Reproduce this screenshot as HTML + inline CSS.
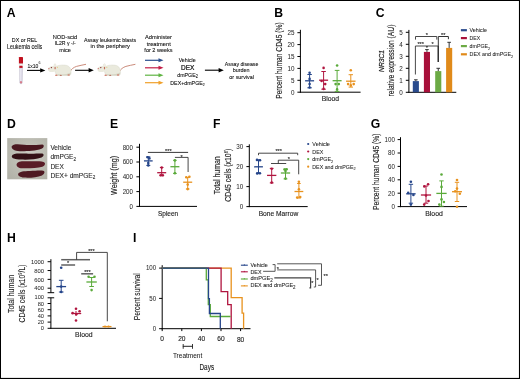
<!DOCTYPE html><html><head><meta charset="utf-8"><style>
html,body{margin:0;padding:0;background:#fff;}
svg{display:block;will-change:transform;}
text{font-family:"Liberation Sans",sans-serif;}
</style></head><body>
<svg width="520" height="379" viewBox="0 0 520 379">
<rect x="0" y="0" width="520" height="379" fill="#fff"/>
<text x="6.8" y="16.7" font-size="12.2" text-anchor="start" fill="#000" font-weight="bold" >A</text>
<text x="274.3" y="16.7" font-size="12.2" text-anchor="start" fill="#000" font-weight="bold" >B</text>
<text x="375.7" y="16.7" font-size="12.2" text-anchor="start" fill="#000" font-weight="bold" >C</text>
<text x="7.0" y="127.8" font-size="12.2" text-anchor="start" fill="#000" font-weight="bold" >D</text>
<text x="110.0" y="127.8" font-size="12.2" text-anchor="start" fill="#000" font-weight="bold" >E</text>
<text x="213.0" y="127.8" font-size="12.2" text-anchor="start" fill="#000" font-weight="bold" >F</text>
<text x="370.7" y="127.8" font-size="12.2" text-anchor="start" fill="#000" font-weight="bold" >G</text>
<text x="7.0" y="241.9" font-size="12.2" text-anchor="start" fill="#000" font-weight="bold" >H</text>
<text x="132.9" y="241.9" font-size="12.2" text-anchor="start" fill="#000" font-weight="bold" >I</text>
<text x="24.55" y="42.0" font-size="6.2" text-anchor="middle" fill="#111" stroke="#111" stroke-width="0.1" textLength="25.4" lengthAdjust="spacingAndGlyphs">DX or REL</text>
<text x="24.6" y="48.9" font-size="6.7" text-anchor="middle" fill="#111" stroke="#111" stroke-width="0.1" textLength="35.3" lengthAdjust="spacingAndGlyphs">Leukemia cells</text>
<text x="64.95" y="38.6" font-size="6.2" text-anchor="middle" fill="#111" stroke="#111" stroke-width="0.1" textLength="24.6" lengthAdjust="spacingAndGlyphs">NOD-scid</text>
<text x="65.25" y="45.0" font-size="6.2" text-anchor="middle" fill="#111" stroke="#111" stroke-width="0.1" textLength="21.2" lengthAdjust="spacingAndGlyphs">IL2R γ -/-</text>
<text x="65.1" y="51.8" font-size="6.2" text-anchor="middle" fill="#111" stroke="#111" stroke-width="0.1" textLength="11.7" lengthAdjust="spacingAndGlyphs">mice</text>
<text x="110.0" y="42.3" font-size="6.2" text-anchor="middle" fill="#111" stroke="#111" stroke-width="0.1" textLength="52.2" lengthAdjust="spacingAndGlyphs">Assay leukemic blasts</text>
<text x="110.25" y="48.3" font-size="6.2" text-anchor="middle" fill="#111" stroke="#111" stroke-width="0.1" textLength="39.3" lengthAdjust="spacingAndGlyphs">in the periphery</text>
<text x="158.5" y="39.0" font-size="6.2" text-anchor="middle" fill="#111" stroke="#111" stroke-width="0.1" textLength="26.9" lengthAdjust="spacingAndGlyphs">Administer</text>
<text x="158.75" y="45.6" font-size="6.2" text-anchor="middle" fill="#111" stroke="#111" stroke-width="0.1" textLength="24.2" lengthAdjust="spacingAndGlyphs">treatment</text>
<text x="158.45" y="52.2" font-size="6.2" text-anchor="middle" fill="#111" stroke="#111" stroke-width="0.1" textLength="28.2" lengthAdjust="spacingAndGlyphs">for 2 weeks</text>
<text x="187.15" y="62.0" font-size="6.2" text-anchor="middle" fill="#111" stroke="#111" stroke-width="0.1" textLength="17.0" lengthAdjust="spacingAndGlyphs">Vehicle</text>
<text x="187.7" y="69.6" font-size="6.7" text-anchor="middle" fill="#111" stroke="#111" stroke-width="0.22" textLength="13.3" lengthAdjust="spacingAndGlyphs">DEX</text>
<text x="187.6" y="77.0" font-size="6.2" text-anchor="middle" fill="#111" stroke="#111" stroke-width="0.1" textLength="20.6" lengthAdjust="spacingAndGlyphs">dmPGE<tspan font-size="4.6" dy="1.3">2</tspan></text>
<text x="187.5" y="84.6" font-size="6.2" text-anchor="middle" fill="#111" stroke="#111" stroke-width="0.1" textLength="34.4" lengthAdjust="spacingAndGlyphs">DEX+dmPGE<tspan font-size="4.0" dy="1.3">2</tspan></text>
<text x="241.6" y="65.8" font-size="6.2" text-anchor="middle" fill="#111" stroke="#111" stroke-width="0.1" textLength="33.5" lengthAdjust="spacingAndGlyphs">Assay disease</text>
<text x="241.2" y="72.4" font-size="6.2" text-anchor="middle" fill="#111" stroke="#111" stroke-width="0.1" textLength="16.9" lengthAdjust="spacingAndGlyphs">burden</text>
<text x="241.65" y="79.0" font-size="6.2" text-anchor="middle" fill="#111" stroke="#111" stroke-width="0.1" textLength="24.6" lengthAdjust="spacingAndGlyphs">or survival</text>
<text x="27.6" y="67.6" font-size="6.2" fill="#111" stroke="#111" stroke-width="0.1" textLength="10.8" lengthAdjust="spacingAndGlyphs">1x10</text><text x="38.6" y="64.4" font-size="3.6" fill="#111">6</text>
<line x1="27.0" y1="70.4" x2="40.699999999999996" y2="70.4" stroke="#000" stroke-width="1.1"/>
<polygon points="40.199999999999996,68.2 45.4,70.4 40.199999999999996,72.60000000000001" fill="#000"/>
<line x1="75.1" y1="70.3" x2="89.1" y2="70.3" stroke="#000" stroke-width="1.1"/>
<polygon points="88.6,68.1 93.8,70.3 88.6,72.5" fill="#000"/>
<line x1="204.9" y1="70.2" x2="219.10000000000002" y2="70.2" stroke="#000" stroke-width="1.1"/>
<polygon points="218.60000000000002,68.0 223.8,70.2 218.60000000000002,72.4" fill="#000"/>
<line x1="145.0" y1="60.3" x2="159.0" y2="60.3" stroke="#2b4f8e" stroke-width="1.2"/>
<polygon points="158.5,58.3 163.5,60.3 158.5,62.3" fill="#2b4f8e"/>
<line x1="145.0" y1="67.8" x2="159.0" y2="67.8" stroke="#c21c46" stroke-width="1.2"/>
<polygon points="158.5,65.8 163.5,67.8 158.5,69.8" fill="#c21c46"/>
<line x1="145.0" y1="75.2" x2="159.0" y2="75.2" stroke="#5fb443" stroke-width="1.2"/>
<polygon points="158.5,73.2 163.5,75.2 158.5,77.2" fill="#5fb443"/>
<line x1="145.0" y1="82.7" x2="159.0" y2="82.7" stroke="#f0a02a" stroke-width="1.2"/>
<polygon points="158.5,80.7 163.5,82.7 158.5,84.7" fill="#f0a02a"/>
<g>
<path d="M19.7,67.6 L22.4,67.6 L22.2,82.6 C22.1,84.2 19.9,84.2 19.8,82.6 Z" fill="#e2e0ec" stroke="#a6a2b6" stroke-width="0.45"/>
<line x1="20.6" y1="69" x2="20.6" y2="81" stroke="#f6f5fa" stroke-width="0.5"/>
<circle cx="21.0" cy="82.3" r="1.15" fill="#d36676"/>
<circle cx="21.0" cy="82.4" r="0.45" fill="#f0d0d4"/>
<rect x="18.9" y="57" width="4.1" height="6.8" rx="0.6" fill="#c1111f"/>
<rect x="19.1" y="63.8" width="3.7" height="2.0" fill="#f4f4f2" stroke="#c9c3c3" stroke-width="0.3"/>
<rect x="19.3" y="65.8" width="3.3" height="2.1" fill="#c1111f"/>
</g>
<g transform="translate(0,0)">
<path d="M69.8,71.8 C71.5,69.0 73.5,67.4 76.5,66.4 C79.5,65.5 82.5,65.1 86.0,64.3" stroke="#c47e6c" stroke-width="0.9" fill="none"/>
<path d="M55.5,67.0 C57.5,65.0 65.5,64.0 68.8,66.4 C71.3,68.3 71.6,72.6 70.8,74.6 C70.2,75.4 68.5,75.5 67.5,75.4 L57.5,75.5 C55.2,75.0 54.2,69.0 55.5,67.0 Z" fill="#eaeadd" stroke="#d2d2c2" stroke-width="0.35"/>
<path d="M57.5,74.0 C61,74.8 66.5,74.6 70.9,72.6 C70.8,74.2 70.2,75.4 67.5,75.4 L57.5,75.5 Z" fill="#d5d6c5"/>
<ellipse cx="52.6" cy="69.0" rx="4.6" ry="3.0" fill="#eaeadd" transform="rotate(-8 52.6 69)"/>
<ellipse cx="55.0" cy="66.3" rx="1.2" ry="2.7" fill="#f0efe6" stroke="#d8d6c4" stroke-width="0.3"/>
<ellipse cx="55.1" cy="68.1" rx="0.65" ry="1.35" fill="#c4705c"/>
<circle cx="57.4" cy="67.4" r="0.55" fill="#e2cf88"/>
<circle cx="51.4" cy="67.6" r="0.72" fill="#7e3232"/>
<circle cx="48.9" cy="68.6" r="0.7" fill="#d27272"/>
<ellipse cx="56.3" cy="75.2" rx="1.3" ry="0.75" fill="#cf7e6c"/>
<ellipse cx="60.8" cy="75.3" rx="1.1" ry="0.6" fill="#b8705e"/>
<ellipse cx="68.7" cy="75.1" rx="1.3" ry="0.75" fill="#cf7e6c"/>
</g>
<g transform="translate(49.4,0)">
<path d="M69.8,71.8 C71.5,69.0 73.5,67.4 76.5,66.4 C79.5,65.5 82.5,65.1 86.0,64.3" stroke="#c47e6c" stroke-width="0.9" fill="none"/>
<path d="M55.5,67.0 C57.5,65.0 65.5,64.0 68.8,66.4 C71.3,68.3 71.6,72.6 70.8,74.6 C70.2,75.4 68.5,75.5 67.5,75.4 L57.5,75.5 C55.2,75.0 54.2,69.0 55.5,67.0 Z" fill="#eaeadd" stroke="#d2d2c2" stroke-width="0.35"/>
<path d="M57.5,74.0 C61,74.8 66.5,74.6 70.9,72.6 C70.8,74.2 70.2,75.4 67.5,75.4 L57.5,75.5 Z" fill="#d5d6c5"/>
<ellipse cx="52.6" cy="69.0" rx="4.6" ry="3.0" fill="#eaeadd" transform="rotate(-8 52.6 69)"/>
<ellipse cx="55.0" cy="66.3" rx="1.2" ry="2.7" fill="#f0efe6" stroke="#d8d6c4" stroke-width="0.3"/>
<ellipse cx="55.1" cy="68.1" rx="0.65" ry="1.35" fill="#c4705c"/>
<circle cx="57.4" cy="67.4" r="0.55" fill="#e2cf88"/>
<circle cx="51.4" cy="67.6" r="0.72" fill="#7e3232"/>
<circle cx="48.9" cy="68.6" r="0.7" fill="#d27272"/>
<ellipse cx="56.3" cy="75.2" rx="1.3" ry="0.75" fill="#cf7e6c"/>
<ellipse cx="60.8" cy="75.3" rx="1.1" ry="0.6" fill="#b8705e"/>
<ellipse cx="68.7" cy="75.1" rx="1.3" ry="0.75" fill="#cf7e6c"/>
</g>
<line x1="300.4" y1="29.8" x2="300.4" y2="92.7" stroke="#000" stroke-width="1"/>
<line x1="299.9" y1="92.2" x2="360.6" y2="92.2" stroke="#000" stroke-width="1"/>
<line x1="297.4" y1="92.2" x2="300.4" y2="92.2" stroke="#000" stroke-width="1"/>
<text x="294.5" y="94.58" font-size="6.8" text-anchor="end" fill="#2a2a2a" font-weight="normal" textLength="3.5" lengthAdjust="spacingAndGlyphs" stroke="#2a2a2a" stroke-width="0.03" >0</text>
<line x1="297.4" y1="80.3" x2="300.4" y2="80.3" stroke="#000" stroke-width="1"/>
<text x="294.5" y="82.68" font-size="6.8" text-anchor="end" fill="#2a2a2a" font-weight="normal" textLength="3.5" lengthAdjust="spacingAndGlyphs" stroke="#2a2a2a" stroke-width="0.03" >5</text>
<line x1="297.4" y1="68.4" x2="300.4" y2="68.4" stroke="#000" stroke-width="1"/>
<text x="294.5" y="70.78" font-size="6.8" text-anchor="end" fill="#2a2a2a" font-weight="normal" textLength="7.0" lengthAdjust="spacingAndGlyphs" stroke="#2a2a2a" stroke-width="0.03" >10</text>
<line x1="297.4" y1="56.5" x2="300.4" y2="56.5" stroke="#000" stroke-width="1"/>
<text x="294.5" y="58.88" font-size="6.8" text-anchor="end" fill="#2a2a2a" font-weight="normal" textLength="7.0" lengthAdjust="spacingAndGlyphs" stroke="#2a2a2a" stroke-width="0.03" >15</text>
<line x1="297.4" y1="44.6" x2="300.4" y2="44.6" stroke="#000" stroke-width="1"/>
<text x="294.5" y="46.98" font-size="6.8" text-anchor="end" fill="#2a2a2a" font-weight="normal" textLength="7.0" lengthAdjust="spacingAndGlyphs" stroke="#2a2a2a" stroke-width="0.03" >20</text>
<line x1="297.4" y1="32.7" x2="300.4" y2="32.7" stroke="#000" stroke-width="1"/>
<text x="294.5" y="35.08" font-size="6.8" text-anchor="end" fill="#2a2a2a" font-weight="normal" textLength="7.0" lengthAdjust="spacingAndGlyphs" stroke="#2a2a2a" stroke-width="0.03" >25</text>
<text transform="translate(281.8,60.6) rotate(-90)" x="0" y="0" font-size="8.6" text-anchor="middle" fill="#222" textLength="76.4" lengthAdjust="spacingAndGlyphs" stroke="#222" stroke-width="0.15" >Percent human CD45 (%)</text>
<text x="330.45" y="100.8" font-size="6.8" text-anchor="middle" fill="#222" font-weight="normal" textLength="17.4" lengthAdjust="spacingAndGlyphs" stroke="#222" stroke-width="0.12" >Blood</text>
<line x1="309.6" y1="74.5" x2="309.6" y2="87.8" stroke="#25458a" stroke-width="1"/>
<line x1="307.35" y1="74.5" x2="311.85" y2="74.5" stroke="#25458a" stroke-width="1"/>
<line x1="307.35" y1="87.8" x2="311.85" y2="87.8" stroke="#25458a" stroke-width="1"/>
<line x1="305.1" y1="80.8" x2="314.1" y2="80.8" stroke="#25458a" stroke-width="1.3"/>
<circle cx="309.6" cy="72.8" r="1.3" fill="#25458a"/>
<circle cx="309.6" cy="78.9" r="1.3" fill="#25458a"/>
<circle cx="309.6" cy="84.1" r="1.3" fill="#25458a"/>
<circle cx="309.6" cy="87.5" r="1.3" fill="#25458a"/>
<line x1="323.6" y1="71.5" x2="323.6" y2="89.2" stroke="#b0153f" stroke-width="1"/>
<line x1="321.35" y1="71.5" x2="325.85" y2="71.5" stroke="#b0153f" stroke-width="1"/>
<line x1="321.35" y1="89.2" x2="325.85" y2="89.2" stroke="#b0153f" stroke-width="1"/>
<line x1="319.1" y1="80.2" x2="328.1" y2="80.2" stroke="#b0153f" stroke-width="1.3"/>
<circle cx="323.6" cy="67.9" r="1.3" fill="#b0153f"/>
<circle cx="321.6" cy="81" r="1.3" fill="#b0153f"/>
<circle cx="325.2" cy="84.1" r="1.3" fill="#b0153f"/>
<circle cx="323.6" cy="88.9" r="1.3" fill="#b0153f"/>
<line x1="337.1" y1="70.4" x2="337.1" y2="91.4" stroke="#5aaa3a" stroke-width="1"/>
<line x1="334.75" y1="70.4" x2="339.45000000000005" y2="70.4" stroke="#5aaa3a" stroke-width="1"/>
<line x1="334.75" y1="91.4" x2="339.45000000000005" y2="91.4" stroke="#5aaa3a" stroke-width="1"/>
<line x1="332.6" y1="80.7" x2="341.6" y2="80.7" stroke="#5aaa3a" stroke-width="1.3"/>
<circle cx="337.1" cy="65.5" r="1.3" fill="#5aaa3a"/>
<circle cx="335.6" cy="84.1" r="1.3" fill="#5aaa3a"/>
<circle cx="338.8" cy="84.1" r="1.3" fill="#5aaa3a"/>
<circle cx="337.1" cy="89.4" r="1.3" fill="#5aaa3a"/>
<line x1="350.8" y1="74.7" x2="350.8" y2="87.1" stroke="#e8921e" stroke-width="1"/>
<line x1="348.6" y1="74.7" x2="353.0" y2="74.7" stroke="#e8921e" stroke-width="1"/>
<line x1="348.6" y1="87.1" x2="353.0" y2="87.1" stroke="#e8921e" stroke-width="1"/>
<line x1="346.05" y1="81.2" x2="355.55" y2="81.2" stroke="#e8921e" stroke-width="1.3"/>
<circle cx="350.8" cy="70.3" r="1.3" fill="#e8921e"/>
<circle cx="348.1" cy="84.1" r="1.3" fill="#e8921e"/>
<circle cx="353.7" cy="84.1" r="1.3" fill="#e8921e"/>
<circle cx="350.8" cy="85.4" r="1.3" fill="#e8921e"/>
<line x1="408.9" y1="29.9" x2="408.9" y2="92.8" stroke="#000" stroke-width="1"/>
<line x1="408.4" y1="92.3" x2="456.3" y2="92.3" stroke="#000" stroke-width="1"/>
<line x1="405.8" y1="92.3" x2="408.9" y2="92.3" stroke="#000" stroke-width="1"/>
<text x="402.8" y="94.68" font-size="6.8" text-anchor="end" fill="#2a2a2a" font-weight="normal" textLength="3.5" lengthAdjust="spacingAndGlyphs" stroke="#2a2a2a" stroke-width="0.03" >0</text>
<line x1="405.8" y1="80.3" x2="408.9" y2="80.3" stroke="#000" stroke-width="1"/>
<text x="402.8" y="82.68" font-size="6.8" text-anchor="end" fill="#2a2a2a" font-weight="normal" textLength="3.5" lengthAdjust="spacingAndGlyphs" stroke="#2a2a2a" stroke-width="0.03" >1</text>
<line x1="405.8" y1="68.3" x2="408.9" y2="68.3" stroke="#000" stroke-width="1"/>
<text x="402.8" y="70.68" font-size="6.8" text-anchor="end" fill="#2a2a2a" font-weight="normal" textLength="3.5" lengthAdjust="spacingAndGlyphs" stroke="#2a2a2a" stroke-width="0.03" >2</text>
<line x1="405.8" y1="56.3" x2="408.9" y2="56.3" stroke="#000" stroke-width="1"/>
<text x="402.8" y="58.68" font-size="6.8" text-anchor="end" fill="#2a2a2a" font-weight="normal" textLength="3.5" lengthAdjust="spacingAndGlyphs" stroke="#2a2a2a" stroke-width="0.03" >3</text>
<line x1="405.8" y1="44.3" x2="408.9" y2="44.3" stroke="#000" stroke-width="1"/>
<text x="402.8" y="46.68" font-size="6.8" text-anchor="end" fill="#2a2a2a" font-weight="normal" textLength="3.5" lengthAdjust="spacingAndGlyphs" stroke="#2a2a2a" stroke-width="0.03" >4</text>
<line x1="405.8" y1="32.3" x2="408.9" y2="32.3" stroke="#000" stroke-width="1"/>
<text x="402.8" y="34.68" font-size="6.8" text-anchor="end" fill="#2a2a2a" font-weight="normal" textLength="3.5" lengthAdjust="spacingAndGlyphs" stroke="#2a2a2a" stroke-width="0.03" >5</text>
<text transform="translate(383.7,60.9) rotate(-90)" font-size="7.8" font-style="italic" text-anchor="middle" fill="#222" stroke="#222" stroke-width="0.22" textLength="22.0" lengthAdjust="spacingAndGlyphs">NR3C1</text>
<text transform="translate(393.6,60.5) rotate(-90)" x="0" y="0" font-size="8.7" text-anchor="middle" fill="#222" textLength="71.8" lengthAdjust="spacingAndGlyphs" stroke="#222" stroke-width="0.15" >relative expression (AU)</text>
<rect x="412.8" y="81.1" width="6.1" height="11.200000000000003" fill="#2a4b8c"/>
<line x1="415.85" y1="79.8" x2="415.85" y2="81.1" stroke="#333" stroke-width="1"/>
<line x1="414.05" y1="79.8" x2="417.65000000000003" y2="79.8" stroke="#333" stroke-width="1"/>
<rect x="423.9" y="51.9" width="6.1" height="40.4" fill="#a8103a"/>
<line x1="426.95" y1="49.6" x2="426.95" y2="51.9" stroke="#333" stroke-width="1"/>
<line x1="425.15" y1="49.6" x2="428.75" y2="49.6" stroke="#333" stroke-width="1"/>
<rect x="435.2" y="71.1" width="6.1" height="21.200000000000003" fill="#6caa45"/>
<line x1="438.25" y1="68.3" x2="438.25" y2="71.1" stroke="#333" stroke-width="1"/>
<line x1="436.45" y1="68.3" x2="440.05" y2="68.3" stroke="#333" stroke-width="1"/>
<rect x="446.1" y="47.9" width="6.1" height="44.4" fill="#e08a1a"/>
<line x1="449.15000000000003" y1="42.3" x2="449.15000000000003" y2="47.9" stroke="#333" stroke-width="1"/>
<line x1="447.35" y1="42.3" x2="450.95000000000005" y2="42.3" stroke="#333" stroke-width="1"/>
<polyline points="415.5,39.6 415.5,36.5 436.8,36.5 436.8,39.6" stroke="#333" stroke-width="0.9" fill="none"/>
<text x="426.9" y="37.21" font-size="5.6" text-anchor="middle" fill="#222" stroke="#222" stroke-width="0.12">*</text>
<polyline points="438.3,62.0 438.3,36.5 448.4,36.5 448.4,39.2" stroke="#333" stroke-width="1.0" fill="none"/>
<line x1="438.3" y1="46" x2="438.3" y2="62.0" stroke="#333" stroke-width="1.4"/>
<text x="443.25" y="37.41" font-size="5.6" text-anchor="middle" fill="#222" stroke="#222" stroke-width="0.12">**</text>
<polyline points="415.4,74.5 415.4,46.0 438.3,46.0" stroke="#333" stroke-width="0.9" fill="none"/>
<polyline points="426.2,46.0 426.9,47.5 427.6,46.0" stroke="#333" stroke-width="0.9" fill="none"/>
<text x="420.65" y="46.11" font-size="5.6" text-anchor="middle" fill="#222" stroke="#222" stroke-width="0.12">***</text>
<text x="432.6" y="46.11" font-size="5.6" text-anchor="middle" fill="#222" stroke="#222" stroke-width="0.12">*</text>
<rect x="460.9" y="29.099999999999998" width="6" height="2.2" fill="#2a4b8c"/>
<text x="469.6" y="32.3" font-size="6.0" text-anchor="start" fill="#222" font-weight="normal" textLength="17.3" lengthAdjust="spacingAndGlyphs" stroke="#222" stroke-width="0.06" >Vehicle</text>
<rect x="460.9" y="37.0" width="6" height="2.2" fill="#a8103a"/>
<text x="469.6" y="40.2" font-size="6.0" text-anchor="start" fill="#222" font-weight="normal" textLength="10.6" lengthAdjust="spacingAndGlyphs" stroke="#222" stroke-width="0.06" >DEX</text>
<rect x="460.9" y="45.0" width="6" height="2.2" fill="#6caa45"/>
<text x="469.6" y="48.2" font-size="6.0" text-anchor="start" fill="#222" font-weight="normal" textLength="20.6" lengthAdjust="spacingAndGlyphs" stroke="#222" stroke-width="0.06" >dmPGE<tspan font-size="4.4" dy="1.4">2</tspan></text>
<rect x="460.9" y="53.199999999999996" width="6" height="2.2" fill="#e08a1a"/>
<text x="469.6" y="56.4" font-size="6.0" text-anchor="start" fill="#222" font-weight="normal" textLength="43.6" lengthAdjust="spacingAndGlyphs" stroke="#222" stroke-width="0.06" >DEX and dmPGE<tspan font-size="4.4" dy="1.4">2</tspan></text>
<g>
<defs><radialGradient id="pg" cx="0.55" cy="0.45" r="0.7"><stop offset="0" stop-color="#cbcbc2"/><stop offset="1" stop-color="#b2b2a8"/></radialGradient></defs><rect x="7.2" y="138.1" width="40.1" height="41.2" fill="url(#pg)"/>
<path d="M11.6,145.2 C13,142.5 18,142.6 24,143.6 C30,144.3 37,143.6 42.3,143.2 C44.5,143.4 44.2,146.4 41.5,147.6 C36,149.8 28,150.0 22,150.0 C16,149.9 11.5,148.6 11.6,145.2 Z" fill="#4a1820" transform="translate(0,1.2) " />
<path d="M11.8,154.0 C12.6,151.3 18,151.2 25,151.6 C32,151.9 38,151.0 42.2,151.6 C44.5,152.2 43.8,154.6 41.5,155.6 C36,157.6 28,157.8 21,157.6 C15,157.4 11.4,156.4 11.8,154.0 Z" fill="#331015" transform="translate(0,2.0) " />
<path d="M16.6,162.5 C17.4,159.6 22,159.4 28,159.6 C34,159.8 40,159.4 43.6,160.2 C46,161.0 45.2,163.8 42.4,165.0 C37,166.6 28,166.8 22,166.6 C18.5,166.3 16.2,164.8 16.6,162.5 Z" fill="#5a1c27" transform="translate(0,1.7) " />
<path d="M18.2,171.6 C19.2,169.2 24,169.0 30,168.8 C36,168.4 41,168.0 43.2,168.6 C45.4,169.4 44.6,171.9 42,173.2 C37,175.4 30,175.6 24,175.4 C20.2,175.1 17.6,173.6 18.2,171.6 Z" fill="#4f1922" transform="translate(0,2.2) " />
</g>
<text x="50.4" y="149.8" font-size="6.6" text-anchor="start" fill="#2a2a2a" font-weight="normal" textLength="21.0" lengthAdjust="spacingAndGlyphs" stroke="#2a2a2a" stroke-width="0.1" >Vehicle</text>
<text x="50.4" y="159.3" font-size="6.6" text-anchor="start" fill="#2a2a2a" font-weight="normal" stroke="#2a2a2a" stroke-width="0.1" >dmPGE<tspan font-size="4.6" dy="1.4">2</tspan></text>
<text x="50.4" y="168.6" font-size="6.6" text-anchor="start" fill="#2a2a2a" font-weight="normal" textLength="13.4" lengthAdjust="spacingAndGlyphs" stroke="#2a2a2a" stroke-width="0.1" >DEX</text>
<text x="50.4" y="177.9" font-size="6.6" text-anchor="start" fill="#2a2a2a" font-weight="normal" stroke="#2a2a2a" stroke-width="0.1" >DEX+ dmPGE<tspan font-size="4.6" dy="1.4">2</tspan></text>
<line x1="139.5" y1="143.8" x2="139.5" y2="206.9" stroke="#000" stroke-width="1"/>
<line x1="139.0" y1="206.4" x2="197.0" y2="206.4" stroke="#000" stroke-width="1"/>
<line x1="136.4" y1="206.4" x2="139.5" y2="206.4" stroke="#000" stroke-width="1"/>
<text x="133.0" y="208.75" font-size="6.7" text-anchor="end" fill="#2a2a2a" font-weight="normal" textLength="3.45" lengthAdjust="spacingAndGlyphs" stroke="#2a2a2a" stroke-width="0.03" >0</text>
<line x1="136.4" y1="191.6" x2="139.5" y2="191.6" stroke="#000" stroke-width="1"/>
<text x="133.0" y="193.94" font-size="6.7" text-anchor="end" fill="#2a2a2a" font-weight="normal" textLength="10.35" lengthAdjust="spacingAndGlyphs" stroke="#2a2a2a" stroke-width="0.03" >200</text>
<line x1="136.4" y1="176.8" x2="139.5" y2="176.8" stroke="#000" stroke-width="1"/>
<text x="133.0" y="179.15" font-size="6.7" text-anchor="end" fill="#2a2a2a" font-weight="normal" textLength="10.35" lengthAdjust="spacingAndGlyphs" stroke="#2a2a2a" stroke-width="0.03" >400</text>
<line x1="136.4" y1="162.0" x2="139.5" y2="162.0" stroke="#000" stroke-width="1"/>
<text x="133.0" y="164.34" font-size="6.7" text-anchor="end" fill="#2a2a2a" font-weight="normal" textLength="10.35" lengthAdjust="spacingAndGlyphs" stroke="#2a2a2a" stroke-width="0.03" >600</text>
<line x1="136.4" y1="147.2" x2="139.5" y2="147.2" stroke="#000" stroke-width="1"/>
<text x="133.0" y="149.54" font-size="6.7" text-anchor="end" fill="#2a2a2a" font-weight="normal" textLength="10.35" lengthAdjust="spacingAndGlyphs" stroke="#2a2a2a" stroke-width="0.03" >800</text>
<text transform="translate(117.1,175.4) rotate(-90)" x="0" y="0" font-size="8.6" text-anchor="middle" fill="#222" textLength="39.0" lengthAdjust="spacingAndGlyphs" stroke="#222" stroke-width="0.15" >Weight (mg)</text>
<text x="168.1" y="215.6" font-size="6.8" text-anchor="middle" fill="#222" font-weight="normal" textLength="20.2" lengthAdjust="spacingAndGlyphs" stroke="#222" stroke-width="0.12" >Spleen</text>
<polyline points="147.9,152.4 188.1,152.4" stroke="#222" stroke-width="0.9" fill="none"/>
<text x="168.3" y="152.71" font-size="5.6" text-anchor="middle" fill="#222" stroke="#222" stroke-width="0.12">***</text>
<polyline points="174.9,157.4 188.1,157.4 188.1,172.0" stroke="#333" stroke-width="0.9" fill="none"/>
<text x="181.5" y="158.51" font-size="5.6" text-anchor="middle" fill="#222" stroke="#222" stroke-width="0.12">*</text>
<line x1="148.3" y1="156.8" x2="148.3" y2="165.4" stroke="#25458a" stroke-width="1"/>
<line x1="146.3" y1="156.8" x2="150.3" y2="156.8" stroke="#25458a" stroke-width="1"/>
<line x1="146.3" y1="165.4" x2="150.3" y2="165.4" stroke="#25458a" stroke-width="1"/>
<line x1="143.95000000000002" y1="160.9" x2="152.65" y2="160.9" stroke="#25458a" stroke-width="1.3"/>
<circle cx="147.6" cy="157.2" r="1.3" fill="#25458a"/>
<circle cx="149.4" cy="158.4" r="1.3" fill="#25458a"/>
<circle cx="148.3" cy="163.0" r="1.3" fill="#25458a"/>
<circle cx="148.3" cy="165.4" r="1.3" fill="#25458a"/>
<line x1="161.7" y1="167.5" x2="161.7" y2="175.7" stroke="#b0153f" stroke-width="1"/>
<line x1="159.89999999999998" y1="167.5" x2="163.5" y2="167.5" stroke="#b0153f" stroke-width="1"/>
<line x1="159.89999999999998" y1="175.7" x2="163.5" y2="175.7" stroke="#b0153f" stroke-width="1"/>
<line x1="157.2" y1="172.7" x2="166.2" y2="172.7" stroke="#b0153f" stroke-width="1.3"/>
<circle cx="161.7" cy="167.6" r="1.3" fill="#b0153f"/>
<circle cx="160.6" cy="175.2" r="1.3" fill="#b0153f"/>
<circle cx="162.8" cy="175.2" r="1.3" fill="#b0153f"/>
<line x1="174.9" y1="160.3" x2="174.9" y2="173.4" stroke="#5aaa3a" stroke-width="1"/>
<line x1="173.1" y1="160.3" x2="176.70000000000002" y2="160.3" stroke="#5aaa3a" stroke-width="1"/>
<line x1="173.1" y1="173.4" x2="176.70000000000002" y2="173.4" stroke="#5aaa3a" stroke-width="1"/>
<line x1="170.4" y1="166.7" x2="179.4" y2="166.7" stroke="#5aaa3a" stroke-width="1.3"/>
<circle cx="174.9" cy="160.4" r="1.3" fill="#5aaa3a"/>
<circle cx="174.9" cy="173.2" r="1.3" fill="#5aaa3a"/>
<line x1="187.7" y1="177.6" x2="187.7" y2="189.0" stroke="#e8921e" stroke-width="1"/>
<line x1="185.89999999999998" y1="177.6" x2="189.5" y2="177.6" stroke="#e8921e" stroke-width="1"/>
<line x1="185.89999999999998" y1="189.0" x2="189.5" y2="189.0" stroke="#e8921e" stroke-width="1"/>
<line x1="183.2" y1="182.2" x2="192.2" y2="182.2" stroke="#e8921e" stroke-width="1.3"/>
<circle cx="186.3" cy="177.2" r="1.3" fill="#e8921e"/>
<circle cx="189.4" cy="176.8" r="1.3" fill="#e8921e"/>
<circle cx="187.7" cy="184.6" r="1.3" fill="#e8921e"/>
<circle cx="187.7" cy="189.1" r="1.3" fill="#e8921e"/>
<line x1="249.3" y1="144.3" x2="249.3" y2="207.1" stroke="#000" stroke-width="1"/>
<line x1="248.8" y1="206.6" x2="307.7" y2="206.6" stroke="#000" stroke-width="1"/>
<line x1="246.4" y1="206.6" x2="249.3" y2="206.6" stroke="#000" stroke-width="1"/>
<text x="243.2" y="208.98" font-size="6.8" text-anchor="end" fill="#2a2a2a" font-weight="normal" textLength="3.5" lengthAdjust="spacingAndGlyphs" stroke="#2a2a2a" stroke-width="0.03" >0</text>
<line x1="246.4" y1="186.6" x2="249.3" y2="186.6" stroke="#000" stroke-width="1"/>
<text x="243.2" y="188.98" font-size="6.8" text-anchor="end" fill="#2a2a2a" font-weight="normal" textLength="7.0" lengthAdjust="spacingAndGlyphs" stroke="#2a2a2a" stroke-width="0.03" >10</text>
<line x1="246.4" y1="166.6" x2="249.3" y2="166.6" stroke="#000" stroke-width="1"/>
<text x="243.2" y="168.98" font-size="6.8" text-anchor="end" fill="#2a2a2a" font-weight="normal" textLength="7.0" lengthAdjust="spacingAndGlyphs" stroke="#2a2a2a" stroke-width="0.03" >20</text>
<line x1="246.4" y1="146.6" x2="249.3" y2="146.6" stroke="#000" stroke-width="1"/>
<text x="243.2" y="148.98" font-size="6.8" text-anchor="end" fill="#2a2a2a" font-weight="normal" textLength="7.0" lengthAdjust="spacingAndGlyphs" stroke="#2a2a2a" stroke-width="0.03" >30</text>
<text transform="translate(219.9,175.25) rotate(-90)" x="0" y="0" font-size="8.5" text-anchor="middle" fill="#222" textLength="37.9" lengthAdjust="spacingAndGlyphs" stroke="#222" stroke-width="0.15" >Total human</text>
<text transform="translate(230.6,175.25) rotate(-90)" font-size="8.5" text-anchor="middle" fill="#222" stroke="#222" stroke-width="0.15" textLength="52.9" lengthAdjust="spacingAndGlyphs">CD45 cells (x10<tspan font-size="5" dy="-2.8">6</tspan><tspan dy="2.8">)</tspan></text>
<text x="278.45" y="215.6" font-size="6.8" text-anchor="middle" fill="#222" font-weight="normal" textLength="39.6" lengthAdjust="spacingAndGlyphs" stroke="#222" stroke-width="0.12" >Bone Marrow</text>
<polyline points="258.5,155.2 258.5,153.2 297.7,153.2 297.7,155.2" stroke="#333" stroke-width="0.9" fill="none"/>
<text x="278.7" y="152.81" font-size="5.6" text-anchor="middle" fill="#222" stroke="#222" stroke-width="0.12">***</text>
<polyline points="271.0,163.5 286.2,163.5" stroke="#333" stroke-width="0.9" fill="none"/>
<polyline points="278.3,163.5 278.3,160.2 298.7,160.2 298.7,174.3" stroke="#333" stroke-width="0.9" fill="none"/>
<text x="288.8" y="161.41" font-size="5.6" text-anchor="middle" fill="#222" stroke="#222" stroke-width="0.12">*</text>
<line x1="258.5" y1="159.8" x2="258.5" y2="173.6" stroke="#25458a" stroke-width="1"/>
<line x1="256.6" y1="159.8" x2="260.4" y2="159.8" stroke="#25458a" stroke-width="1"/>
<line x1="256.6" y1="173.6" x2="260.4" y2="173.6" stroke="#25458a" stroke-width="1"/>
<line x1="254.1" y1="166.8" x2="262.9" y2="166.8" stroke="#25458a" stroke-width="1.3"/>
<circle cx="257.0" cy="159.9" r="1.3" fill="#25458a"/>
<circle cx="260.0" cy="160.3" r="1.3" fill="#25458a"/>
<circle cx="257.2" cy="173.4" r="1.3" fill="#25458a"/>
<circle cx="259.9" cy="173.2" r="1.3" fill="#25458a"/>
<line x1="271.7" y1="168.4" x2="271.7" y2="182.9" stroke="#b0153f" stroke-width="1"/>
<line x1="269.8" y1="168.4" x2="273.59999999999997" y2="168.4" stroke="#b0153f" stroke-width="1"/>
<line x1="269.8" y1="182.9" x2="273.59999999999997" y2="182.9" stroke="#b0153f" stroke-width="1"/>
<line x1="267.05" y1="175.4" x2="276.34999999999997" y2="175.4" stroke="#b0153f" stroke-width="1.3"/>
<circle cx="271.7" cy="168.8" r="1.3" fill="#b0153f"/>
<circle cx="271.7" cy="182.6" r="1.3" fill="#b0153f"/>
<line x1="285.5" y1="169.0" x2="285.5" y2="178.9" stroke="#5aaa3a" stroke-width="1"/>
<line x1="283.6" y1="169.0" x2="287.4" y2="169.0" stroke="#5aaa3a" stroke-width="1"/>
<line x1="283.6" y1="178.9" x2="287.4" y2="178.9" stroke="#5aaa3a" stroke-width="1"/>
<line x1="280.85" y1="173.0" x2="290.15" y2="173.0" stroke="#5aaa3a" stroke-width="1.3"/>
<circle cx="284.6" cy="169.5" r="1.3" fill="#5aaa3a"/>
<circle cx="286.6" cy="169.2" r="1.3" fill="#5aaa3a"/>
<circle cx="285.5" cy="171.0" r="1.3" fill="#5aaa3a"/>
<circle cx="285.5" cy="178.6" r="1.3" fill="#5aaa3a"/>
<line x1="298.9" y1="183.5" x2="298.9" y2="198.0" stroke="#e8921e" stroke-width="1"/>
<line x1="297.09999999999997" y1="183.5" x2="300.7" y2="183.5" stroke="#e8921e" stroke-width="1"/>
<line x1="297.09999999999997" y1="198.0" x2="300.7" y2="198.0" stroke="#e8921e" stroke-width="1"/>
<line x1="294.5" y1="191.5" x2="303.29999999999995" y2="191.5" stroke="#e8921e" stroke-width="1.3"/>
<circle cx="298.9" cy="181.7" r="1.3" fill="#e8921e"/>
<circle cx="298.9" cy="189.2" r="1.3" fill="#e8921e"/>
<circle cx="297.2" cy="197.6" r="1.3" fill="#e8921e"/>
<circle cx="300.2" cy="197.0" r="1.3" fill="#e8921e"/>
<circle cx="308.2" cy="144.0" r="1.1" fill="#25458a"/>
<text x="312.3" y="146.0" font-size="6.0" text-anchor="start" fill="#222" font-weight="normal" textLength="17.6" lengthAdjust="spacingAndGlyphs" stroke="#222" stroke-width="0.06" >Vehicle</text>
<circle cx="308.2" cy="151.5" r="1.1" fill="#b0153f"/>
<text x="312.3" y="153.5" font-size="6.0" text-anchor="start" fill="#222" font-weight="normal" textLength="11.0" lengthAdjust="spacingAndGlyphs" stroke="#222" stroke-width="0.06" >DEX</text>
<circle cx="308.2" cy="159.1" r="1.1" fill="#5aaa3a"/>
<text x="312.3" y="161.1" font-size="6.0" text-anchor="start" fill="#222" font-weight="normal" textLength="20.9" lengthAdjust="spacingAndGlyphs" stroke="#222" stroke-width="0.06" >dmPGE<tspan font-size="4.4" dy="1.4">2</tspan></text>
<circle cx="308.2" cy="166.7" r="1.1" fill="#e8921e"/>
<text x="312.3" y="168.7" font-size="6.0" text-anchor="start" fill="#222" font-weight="normal" textLength="43.4" lengthAdjust="spacingAndGlyphs" stroke="#222" stroke-width="0.06" >DEX and dmPGE<tspan font-size="4.4" dy="1.4">2</tspan></text>
<line x1="400.5" y1="137.2" x2="400.5" y2="207.1" stroke="#000" stroke-width="1"/>
<line x1="400.0" y1="206.6" x2="467.0" y2="206.6" stroke="#000" stroke-width="1"/>
<line x1="397.6" y1="206.6" x2="400.5" y2="206.6" stroke="#000" stroke-width="1"/>
<text x="394.9" y="208.98" font-size="6.8" text-anchor="end" fill="#2a2a2a" font-weight="normal" textLength="3.45" lengthAdjust="spacingAndGlyphs" stroke="#2a2a2a" stroke-width="0.03" >0</text>
<line x1="397.6" y1="193.2" x2="400.5" y2="193.2" stroke="#000" stroke-width="1"/>
<text x="394.9" y="195.58" font-size="6.8" text-anchor="end" fill="#2a2a2a" font-weight="normal" textLength="6.9" lengthAdjust="spacingAndGlyphs" stroke="#2a2a2a" stroke-width="0.03" >20</text>
<line x1="397.6" y1="179.8" x2="400.5" y2="179.8" stroke="#000" stroke-width="1"/>
<text x="394.9" y="182.18" font-size="6.8" text-anchor="end" fill="#2a2a2a" font-weight="normal" textLength="6.9" lengthAdjust="spacingAndGlyphs" stroke="#2a2a2a" stroke-width="0.03" >40</text>
<line x1="397.6" y1="166.4" x2="400.5" y2="166.4" stroke="#000" stroke-width="1"/>
<text x="394.9" y="168.78" font-size="6.8" text-anchor="end" fill="#2a2a2a" font-weight="normal" textLength="6.9" lengthAdjust="spacingAndGlyphs" stroke="#2a2a2a" stroke-width="0.03" >60</text>
<line x1="397.6" y1="153.0" x2="400.5" y2="153.0" stroke="#000" stroke-width="1"/>
<text x="394.9" y="155.38" font-size="6.8" text-anchor="end" fill="#2a2a2a" font-weight="normal" textLength="6.9" lengthAdjust="spacingAndGlyphs" stroke="#2a2a2a" stroke-width="0.03" >80</text>
<line x1="397.6" y1="139.6" x2="400.5" y2="139.6" stroke="#000" stroke-width="1"/>
<text x="394.9" y="141.98" font-size="6.8" text-anchor="end" fill="#2a2a2a" font-weight="normal" textLength="10.35" lengthAdjust="spacingAndGlyphs" stroke="#2a2a2a" stroke-width="0.03" >100</text>
<text transform="translate(378.5,171.7) rotate(-90)" x="0" y="0" font-size="8.6" text-anchor="middle" fill="#222" textLength="76.4" lengthAdjust="spacingAndGlyphs" stroke="#222" stroke-width="0.15" >Percent human CD45 (%)</text>
<text x="434.05" y="215.5" font-size="6.8" text-anchor="middle" fill="#222" font-weight="normal" textLength="17.6" lengthAdjust="spacingAndGlyphs" stroke="#222" stroke-width="0.12" >Blood</text>
<line x1="410.9" y1="184.3" x2="410.9" y2="203.2" stroke="#25458a" stroke-width="1"/>
<line x1="408.7" y1="184.3" x2="413.09999999999997" y2="184.3" stroke="#25458a" stroke-width="1"/>
<line x1="408.7" y1="203.2" x2="413.09999999999997" y2="203.2" stroke="#25458a" stroke-width="1"/>
<line x1="406.15" y1="193.8" x2="415.65" y2="193.8" stroke="#25458a" stroke-width="1.3"/>
<circle cx="410.9" cy="181.8" r="1.3" fill="#25458a"/>
<circle cx="408.2" cy="192.9" r="1.3" fill="#25458a"/>
<circle cx="413.4" cy="195.0" r="1.3" fill="#25458a"/>
<circle cx="410.9" cy="204.6" r="1.3" fill="#25458a"/>
<line x1="426.0" y1="186.0" x2="426.0" y2="203.2" stroke="#b0153f" stroke-width="1"/>
<line x1="423.8" y1="186.0" x2="428.2" y2="186.0" stroke="#b0153f" stroke-width="1"/>
<line x1="423.8" y1="203.2" x2="428.2" y2="203.2" stroke="#b0153f" stroke-width="1"/>
<line x1="420.9" y1="195.0" x2="431.1" y2="195.0" stroke="#b0153f" stroke-width="1.3"/>
<circle cx="428.1" cy="184.3" r="1.3" fill="#b0153f"/>
<circle cx="424.3" cy="186.4" r="1.3" fill="#b0153f"/>
<circle cx="426.0" cy="195.5" r="1.3" fill="#b0153f"/>
<circle cx="428.5" cy="201.0" r="1.3" fill="#b0153f"/>
<circle cx="424.2" cy="204.6" r="1.3" fill="#b0153f"/>
<line x1="441.5" y1="180.9" x2="441.5" y2="206.2" stroke="#5aaa3a" stroke-width="1"/>
<line x1="439.3" y1="180.9" x2="443.7" y2="180.9" stroke="#5aaa3a" stroke-width="1"/>
<line x1="439.3" y1="206.2" x2="443.7" y2="206.2" stroke="#5aaa3a" stroke-width="1"/>
<line x1="436.35" y1="193.4" x2="446.65" y2="193.4" stroke="#5aaa3a" stroke-width="1.3"/>
<circle cx="441.5" cy="174.5" r="1.3" fill="#5aaa3a"/>
<circle cx="441.5" cy="186.9" r="1.3" fill="#5aaa3a"/>
<circle cx="441.5" cy="199.4" r="1.3" fill="#5aaa3a"/>
<circle cx="443.9" cy="202.0" r="1.3" fill="#5aaa3a"/>
<circle cx="439.3" cy="204.6" r="1.3" fill="#5aaa3a"/>
<line x1="457.0" y1="182.3" x2="457.0" y2="201.5" stroke="#e8921e" stroke-width="1"/>
<line x1="454.8" y1="182.3" x2="459.2" y2="182.3" stroke="#e8921e" stroke-width="1"/>
<line x1="454.8" y1="201.5" x2="459.2" y2="201.5" stroke="#e8921e" stroke-width="1"/>
<line x1="452.0" y1="191.7" x2="462.0" y2="191.7" stroke="#e8921e" stroke-width="1.3"/>
<circle cx="457.0" cy="180.0" r="1.3" fill="#e8921e"/>
<circle cx="457.0" cy="188.6" r="1.3" fill="#e8921e"/>
<circle cx="455.2" cy="191.2" r="1.3" fill="#e8921e"/>
<circle cx="459.8" cy="193.8" r="1.3" fill="#e8921e"/>
<circle cx="457.0" cy="206.7" r="1.3" fill="#e8921e"/>
<line x1="50.9" y1="259.2" x2="50.9" y2="292.7" stroke="#000" stroke-width="1"/>
<line x1="47.6" y1="292.7" x2="54.2" y2="292.7" stroke="#000" stroke-width="1"/>
<line x1="50.9" y1="297.8" x2="50.9" y2="328.8" stroke="#000" stroke-width="1"/>
<line x1="47.6" y1="297.8" x2="54.2" y2="297.8" stroke="#000" stroke-width="1"/>
<line x1="50.4" y1="328.3" x2="116.0" y2="328.3" stroke="#000" stroke-width="1"/>
<line x1="47.6" y1="288.2" x2="50.9" y2="288.2" stroke="#000" stroke-width="1"/>
<text x="44.0" y="290.37" font-size="6.2" text-anchor="end" fill="#2a2a2a" font-weight="normal" textLength="9.75" lengthAdjust="spacingAndGlyphs" stroke="#2a2a2a" stroke-width="0.03" >400</text>
<line x1="47.6" y1="279.37" x2="50.9" y2="279.37" stroke="#000" stroke-width="1"/>
<text x="44.0" y="281.54" font-size="6.2" text-anchor="end" fill="#2a2a2a" font-weight="normal" textLength="9.75" lengthAdjust="spacingAndGlyphs" stroke="#2a2a2a" stroke-width="0.03" >600</text>
<line x1="47.6" y1="270.54" x2="50.9" y2="270.54" stroke="#000" stroke-width="1"/>
<text x="44.0" y="272.71" font-size="6.2" text-anchor="end" fill="#2a2a2a" font-weight="normal" textLength="9.75" lengthAdjust="spacingAndGlyphs" stroke="#2a2a2a" stroke-width="0.03" >800</text>
<line x1="47.6" y1="261.71" x2="50.9" y2="261.71" stroke="#000" stroke-width="1"/>
<text x="44.0" y="263.88" font-size="6.2" text-anchor="end" fill="#2a2a2a" font-weight="normal" textLength="13.0" lengthAdjust="spacingAndGlyphs" stroke="#2a2a2a" stroke-width="0.03" >1000</text>
<line x1="47.6" y1="328.3" x2="50.9" y2="328.3" stroke="#000" stroke-width="1"/>
<text x="44.0" y="330.37" font-size="5.9" text-anchor="end" fill="#2a2a2a" font-weight="normal" textLength="3.15" lengthAdjust="spacingAndGlyphs" stroke="#2a2a2a" stroke-width="0.03" >0</text>
<line x1="47.6" y1="322.1" x2="50.9" y2="322.1" stroke="#000" stroke-width="1"/>
<text x="44.0" y="324.17" font-size="5.9" text-anchor="end" fill="#2a2a2a" font-weight="normal" textLength="6.3" lengthAdjust="spacingAndGlyphs" stroke="#2a2a2a" stroke-width="0.03" >20</text>
<line x1="47.6" y1="315.9" x2="50.9" y2="315.9" stroke="#000" stroke-width="1"/>
<text x="44.0" y="317.96" font-size="5.9" text-anchor="end" fill="#2a2a2a" font-weight="normal" textLength="6.3" lengthAdjust="spacingAndGlyphs" stroke="#2a2a2a" stroke-width="0.03" >40</text>
<line x1="47.6" y1="309.7" x2="50.9" y2="309.7" stroke="#000" stroke-width="1"/>
<text x="44.0" y="311.76" font-size="5.9" text-anchor="end" fill="#2a2a2a" font-weight="normal" textLength="6.3" lengthAdjust="spacingAndGlyphs" stroke="#2a2a2a" stroke-width="0.03" >60</text>
<line x1="47.6" y1="303.5" x2="50.9" y2="303.5" stroke="#000" stroke-width="1"/>
<text x="44.0" y="305.56" font-size="5.9" text-anchor="end" fill="#2a2a2a" font-weight="normal" textLength="6.3" lengthAdjust="spacingAndGlyphs" stroke="#2a2a2a" stroke-width="0.03" >80</text>
<text x="44.0" y="299.37" font-size="5.9" text-anchor="end" fill="#2a2a2a" font-weight="normal" textLength="9.45" lengthAdjust="spacingAndGlyphs" stroke="#2a2a2a" stroke-width="0.03" >100</text>
<text transform="translate(14.3,294.0) rotate(-90)" x="0" y="0" font-size="8.5" text-anchor="middle" fill="#222" textLength="38.1" lengthAdjust="spacingAndGlyphs" stroke="#222" stroke-width="0.1" >Total human</text>
<text transform="translate(24.7,293.5) rotate(-90)" font-size="8.5" text-anchor="middle" fill="#222" stroke="#222" stroke-width="0.1" textLength="57.9" lengthAdjust="spacingAndGlyphs">CD45 cells (x10<tspan font-size="5" dy="-2.8">9</tspan><tspan dy="2.8">/L)</tspan></text>
<text x="83.85" y="337.2" font-size="6.8" text-anchor="middle" fill="#222" font-weight="normal" textLength="17.6" lengthAdjust="spacingAndGlyphs" stroke="#222" stroke-width="0.12" >Blood</text>
<line x1="61.2" y1="280.3" x2="61.2" y2="292.0" stroke="#25458a" stroke-width="1"/>
<line x1="58.900000000000006" y1="280.3" x2="63.5" y2="280.3" stroke="#25458a" stroke-width="1"/>
<line x1="58.900000000000006" y1="292.0" x2="63.5" y2="292.0" stroke="#25458a" stroke-width="1"/>
<line x1="56.300000000000004" y1="286.6" x2="66.10000000000001" y2="286.6" stroke="#25458a" stroke-width="1.3"/>
<circle cx="61.2" cy="267.8" r="1.3" fill="#25458a"/>
<circle cx="61.2" cy="286.6" r="1.3" fill="#25458a"/>
<circle cx="61.2" cy="292.0" r="1.3" fill="#25458a"/>
<line x1="91.6" y1="277.5" x2="91.6" y2="286.5" stroke="#5aaa3a" stroke-width="1"/>
<line x1="89.3" y1="277.5" x2="93.89999999999999" y2="277.5" stroke="#5aaa3a" stroke-width="1"/>
<line x1="89.3" y1="286.5" x2="93.89999999999999" y2="286.5" stroke="#5aaa3a" stroke-width="1"/>
<line x1="86.39999999999999" y1="282.0" x2="96.8" y2="282.0" stroke="#5aaa3a" stroke-width="1.3"/>
<circle cx="88.6" cy="276.8" r="1.3" fill="#5aaa3a"/>
<circle cx="94.5" cy="276.8" r="1.3" fill="#5aaa3a"/>
<circle cx="91.6" cy="290.1" r="1.3" fill="#5aaa3a"/>
<line x1="71.4" y1="313.5" x2="81.2" y2="313.5" stroke="#b0153f" stroke-width="1.3"/>
<line x1="76" y1="311" x2="76" y2="316" stroke="#b0153f" stroke-width="1"/>
<circle cx="76" cy="308.7" r="1.3" fill="#b0153f"/>
<circle cx="79.6" cy="311.2" r="1.3" fill="#b0153f"/>
<circle cx="72.6" cy="313.1" r="1.3" fill="#b0153f"/>
<circle cx="76.3" cy="314.3" r="1.3" fill="#b0153f"/>
<circle cx="76" cy="320.5" r="1.3" fill="#b0153f"/>
<line x1="102.5" y1="326.6" x2="111.5" y2="326.6" stroke="#e8921e" stroke-width="1.3"/>
<circle cx="105" cy="326.6" r="1.0" fill="#e8921e"/>
<circle cx="108.5" cy="326.6" r="1.0" fill="#e8921e"/>
<line x1="61.2" y1="259.7" x2="90.0" y2="259.7" stroke="#606060" stroke-width="1.5"/>
<line x1="61.2" y1="265.0" x2="75.1" y2="265.0" stroke="#606060" stroke-width="1.5"/>
<text x="68.0" y="265.31" font-size="5.6" text-anchor="middle" fill="#222" stroke="#222" stroke-width="0.12">*</text>
<line x1="81.2" y1="273.8" x2="93.1" y2="273.8" stroke="#606060" stroke-width="1.5"/>
<text x="87.4" y="274.11" font-size="5.6" text-anchor="middle" fill="#222" stroke="#222" stroke-width="0.12">***</text>
<polyline points="76.6,259.7 76.6,252.4 107.3,252.4 107.3,321.3" stroke="#333" stroke-width="0.9" fill="none"/>
<text x="91.4" y="252.81" font-size="5.6" text-anchor="middle" fill="#222" stroke="#222" stroke-width="0.12">***</text>
<line x1="162.2" y1="265.2" x2="162.2" y2="329.2" stroke="#000" stroke-width="1"/>
<line x1="161.7" y1="328.7" x2="250.5" y2="328.7" stroke="#000" stroke-width="1"/>
<line x1="159.1" y1="328.7" x2="162.2" y2="328.7" stroke="#000" stroke-width="1"/>
<text x="156.1" y="331.01" font-size="6.6" text-anchor="end" fill="#2a2a2a" font-weight="normal" textLength="3.4" lengthAdjust="spacingAndGlyphs" stroke="#2a2a2a" stroke-width="0.03" >0</text>
<line x1="159.1" y1="298.4" x2="162.2" y2="298.4" stroke="#000" stroke-width="1"/>
<text x="156.1" y="300.71" font-size="6.6" text-anchor="end" fill="#2a2a2a" font-weight="normal" textLength="6.8" lengthAdjust="spacingAndGlyphs" stroke="#2a2a2a" stroke-width="0.03" >50</text>
<line x1="159.1" y1="268.1" x2="162.2" y2="268.1" stroke="#000" stroke-width="1"/>
<text x="156.1" y="270.41" font-size="6.6" text-anchor="end" fill="#2a2a2a" font-weight="normal" textLength="10.2" lengthAdjust="spacingAndGlyphs" stroke="#2a2a2a" stroke-width="0.03" >100</text>
<line x1="162.2" y1="328.7" x2="162.2" y2="331.09999999999997" stroke="#000" stroke-width="1"/>
<text x="162.2" y="340.6" font-size="6.6" text-anchor="middle" fill="#222" font-weight="normal" stroke="#222" stroke-width="0.12" >0</text>
<line x1="181.8" y1="328.7" x2="181.8" y2="331.09999999999997" stroke="#000" stroke-width="1"/>
<text x="181.8" y="340.6" font-size="6.6" text-anchor="middle" fill="#222" font-weight="normal" stroke="#222" stroke-width="0.12" >20</text>
<line x1="201.4" y1="328.7" x2="201.4" y2="331.09999999999997" stroke="#000" stroke-width="1"/>
<text x="201.4" y="340.6" font-size="6.6" text-anchor="middle" fill="#222" font-weight="normal" stroke="#222" stroke-width="0.12" >40</text>
<line x1="221.0" y1="328.7" x2="221.0" y2="331.09999999999997" stroke="#000" stroke-width="1"/>
<text x="221.0" y="340.6" font-size="6.6" text-anchor="middle" fill="#222" font-weight="normal" stroke="#222" stroke-width="0.12" >60</text>
<line x1="240.6" y1="328.7" x2="240.6" y2="331.09999999999997" stroke="#000" stroke-width="1"/>
<text x="240.6" y="341.6" font-size="6.6" text-anchor="middle" fill="#222" font-weight="normal" stroke="#222" stroke-width="0.12" >80</text>
<text transform="translate(140.2,296.75) rotate(-90)" x="0" y="0" font-size="8.6" text-anchor="middle" fill="#222" textLength="47.0" lengthAdjust="spacingAndGlyphs" stroke="#222" stroke-width="0.12" >Percent survival</text>
<text x="206.8" y="369.8" font-size="8.4" text-anchor="middle" fill="#222" font-weight="normal" textLength="14.6" lengthAdjust="spacingAndGlyphs" stroke="#222" stroke-width="0.12" >Days</text>
<text x="187.6" y="357.9" font-size="6.6" text-anchor="middle" fill="#222" font-weight="normal" textLength="29.4" lengthAdjust="spacingAndGlyphs" stroke="#222" stroke-width="0.04" >Treatment</text>
<line x1="182.8" y1="346.3" x2="192.9" y2="346.3" stroke="#222" stroke-width="1.0"/>
<line x1="183.2" y1="344.0" x2="183.2" y2="348.8" stroke="#222" stroke-width="0.9"/>
<line x1="192.5" y1="344.0" x2="192.5" y2="348.8" stroke="#222" stroke-width="0.9"/>
<path d="M162.2,268.1 L231.2,268.1 L231.2,297.7 L242.1,297.7 L242.1,313.2 L243.6,313.2 L243.6,328.7" stroke="#e8921e" stroke-width="1.3" fill="none" stroke-linejoin="miter"/>
<path d="M162.2,268.1 L221.1,268.1 L221.1,291.7 L227.7,291.7 L227.7,304.6 L231.2,304.6 L231.2,328.7" stroke="#b0153f" stroke-width="1.3" fill="none" stroke-linejoin="miter"/>
<path d="M162.2,268.1 L206.3,268.1 L206.3,279.8 L208.3,279.8 L208.3,304.6 L210.3,304.6 L210.3,316.5 L230.6,316.5" stroke="#5aaa3a" stroke-width="1.3" fill="none" stroke-linejoin="miter"/>
<path d="M162.2,268.1 L208.5,268.1 L208.5,298.6 L209.4,298.6 L209.4,313.5 L220.3,313.5 L220.3,328.7" stroke="#25458a" stroke-width="1.3" fill="none" stroke-linejoin="miter"/>
<line x1="240.9" y1="265.2" x2="247.8" y2="265.2" stroke="#25458a" stroke-width="1.1"/>
<line x1="244.35" y1="264.3" x2="244.35" y2="265.5" stroke="#25458a" stroke-width="0.9"/>
<text x="250.5" y="267.0" font-size="6.2" text-anchor="start" fill="#222" font-weight="normal" textLength="17.2" lengthAdjust="spacingAndGlyphs" stroke="#222" stroke-width="0.08" >Vehicle</text>
<line x1="240.9" y1="271.8" x2="247.8" y2="271.8" stroke="#b0153f" stroke-width="1.1"/>
<line x1="244.35" y1="270.90000000000003" x2="244.35" y2="272.1" stroke="#b0153f" stroke-width="0.9"/>
<text x="250.5" y="273.6" font-size="6.2" text-anchor="start" fill="#222" font-weight="normal" textLength="11.0" lengthAdjust="spacingAndGlyphs" stroke="#222" stroke-width="0.08" >DEX</text>
<line x1="240.9" y1="279.0" x2="247.8" y2="279.0" stroke="#5aaa3a" stroke-width="1.1"/>
<line x1="244.35" y1="278.1" x2="244.35" y2="279.3" stroke="#5aaa3a" stroke-width="0.9"/>
<text x="250.5" y="280.1" font-size="6.2" text-anchor="start" fill="#222" font-weight="normal" textLength="22.2" lengthAdjust="spacingAndGlyphs" stroke="#222" stroke-width="0.08" >dmPGE<tspan font-size="5" dy="1.5">2</tspan></text>
<line x1="240.9" y1="285.9" x2="247.8" y2="285.9" stroke="#e8921e" stroke-width="1.1"/>
<line x1="244.35" y1="285.0" x2="244.35" y2="286.2" stroke="#e8921e" stroke-width="0.9"/>
<text x="250.5" y="287.4" font-size="6.2" text-anchor="start" fill="#222" font-weight="normal" textLength="45.0" lengthAdjust="spacingAndGlyphs" stroke="#222" stroke-width="0.08" >DEX and dmPGE<tspan font-size="5" dy="1.5">2</tspan></text>
<polyline points="272.6,264.6 275.1,264.6 275.1,271.3 263.1,271.3" stroke="#444" stroke-width="0.9" fill="none"/>
<text x="277.8" y="270.71" font-size="5.6" text-anchor="middle" fill="#222" stroke="#222" stroke-width="0.12">*</text>
<polyline points="277.2,263.8 321.5,263.8 321.5,285.3 318.1,285.3" stroke="#444" stroke-width="0.9" fill="none"/>
<text x="325.75" y="277.81" font-size="5.6" text-anchor="middle" fill="#222" stroke="#222" stroke-width="0.12">**</text>
<polyline points="277.2,269.9 315.6,269.9 315.6,287.0 313.8,287.0" stroke="#444" stroke-width="0.9" fill="none"/>
<text x="317.5" y="281.51" font-size="5.6" text-anchor="middle" fill="#222" stroke="#222" stroke-width="0.12">*</text>
<polyline points="274.3,277.8 310.6,277.8 310.6,287.8 309.4,287.8" stroke="#444" stroke-width="1.2" fill="none"/>
<text x="312.3" y="285.31" font-size="5.6" text-anchor="middle" fill="#222" stroke="#222" stroke-width="0.12">*</text>
<rect x="0" y="0" width="520" height="1" fill="#000"/>
<rect x="0" y="0" width="1" height="379" fill="#000"/>
<rect x="518.95" y="0" width="1.05" height="379" fill="#000"/>
<rect x="0" y="377.9" width="520" height="1.1" fill="#000"/>
</svg></body></html>
